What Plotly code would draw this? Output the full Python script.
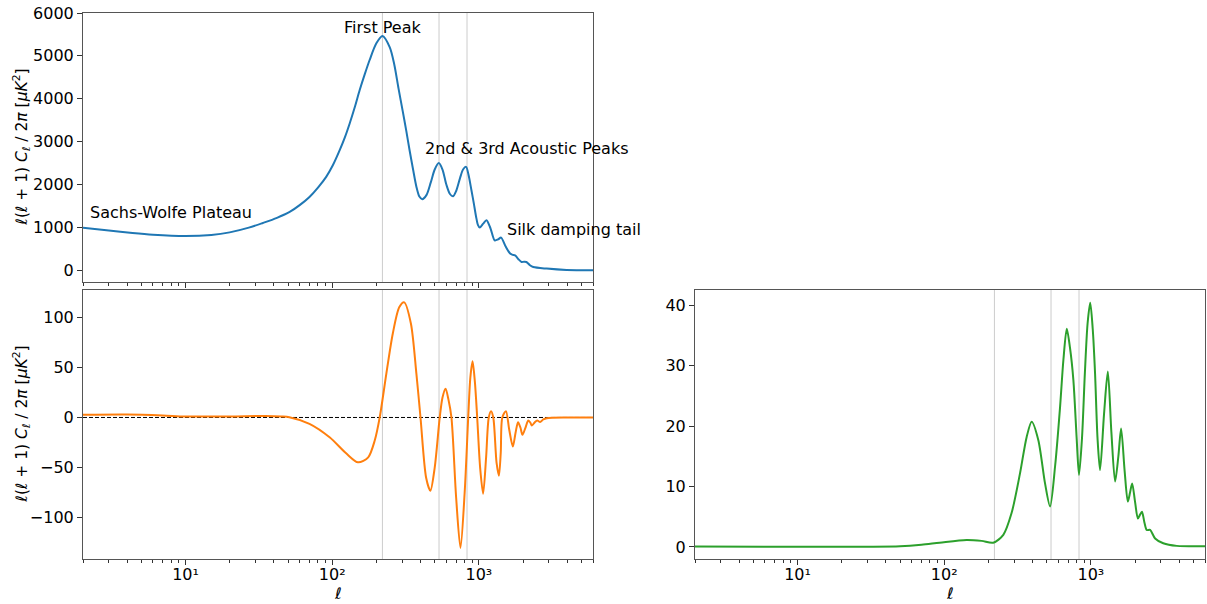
import numpy as np
import plotly.graph_objects as go

# Multipole moments and band powers D_ell = ell(ell+1) C_ell / 2pi  [muK^2]
tt_ell = [2, 3, 4.35, 6, 10, 15, 20, 27, 33.7, 42, 51.3, 60, 70, 80, 91, 101, 112.5,
          122, 131.6, 143, 154, 167, 180, 200, 220, 247, 265, 283, 303, 320, 337, 356,
          375, 393, 411, 440, 470, 500, 533, 565, 600, 635, 667, 700, 744, 780, 818,
          850, 890, 925, 958, 985, 1014, 1070, 1127, 1200, 1282, 1350, 1418, 1520,
          1634, 1700, 1765, 1860, 1955, 2030, 2110, 2230, 2350, 2900, 3960, 6000]
tt_val = [990, 930, 870, 830, 800, 825, 885, 995, 1105, 1225, 1362, 1520, 1712, 1930,
          2180, 2450, 2802, 3100, 3425, 3820, 4203, 4580, 4904, 5293, 5464, 5200, 4800,
          4250, 3700, 3250, 2800, 2350, 1950, 1720, 1660, 1760, 2050, 2350, 2500, 2350,
          2000, 1780, 1728, 1850, 2150, 2350, 2412, 2230, 1868, 1550, 1245, 1060, 997,
          1090, 1168, 980, 700, 720, 763, 560, 390, 360, 350, 260, 195, 200, 195, 120,
          78, 40, 7, 0]

te_ell = [2, 4, 7, 10, 20, 35, 45, 51, 70, 96, 125, 150, 176, 195, 211, 234, 259, 287,
          310, 344, 375, 400, 437, 467, 500, 541, 565, 593, 620, 650, 700, 749, 800, 846,
          875, 906, 940, 974, 1020, 1069, 1120, 1168, 1211, 1254, 1320, 1370, 1410, 1445,
          1530, 1610, 1705, 1780, 1850, 1920, 1983, 2080, 2170, 2240, 2300, 2400, 2500,
          2615, 2750, 2900, 4000, 6000]
te_val = [2.7, 3.0, 2.0, 1.0, 1.0, 1.5, 1.0, 0.3, -6.3, -19.7, -36, -44.7, -39.7, -23,
          0.3, 43.7, 83.7, 110, 114.7, 93.7, 43.7, 0, -60, -73, -50, 0, 20, 28.7, 18, 0,
          -80, -130, -75, 0, 40, 56, 35, 0, -50, -76, -40, 0, 6.3, 0, -45, -58, -35, 0,
          6.3, -12, -29, -15, -4.7, -10, -17.3, -10, -3, -5, -8, -5, -3, -4.5, -2, -0.7,
          0, 0]

ee_ell = [2, 10, 30, 50, 70, 93, 142, 180, 216, 253, 288, 329, 365, 395, 438, 487, 527,
          570, 616, 650, 685, 720, 760, 800, 830, 870, 910, 950, 990, 1030, 1068, 1110,
          1155, 1230, 1305, 1380, 1463, 1540, 1608, 1700, 1786, 1850, 1912, 2000, 2092,
          2160, 2230, 2320, 2405, 2535, 2742, 3115, 3850, 6000]
ee_val = [0.05, 0.02, 0.03, 0.1, 0.35, 0.7, 1.16, 1.0, 0.7, 2.0, 5.6, 12.2, 18.2, 20.7,
          17.7, 10.5, 6.7, 13.3, 23, 31, 36.1, 33, 27.6, 18, 11.9, 18, 28.7, 37, 40.4, 36,
          28.7, 18, 12.7, 22, 29.0, 19, 10.8, 15, 19.6, 12.5, 7.5, 9, 10.5, 7.5, 4.7, 5.3,
          5.8, 4, 2.8, 2.8, 1.4, 0.6, 0.17, 0.1]

# Reference multipoles of the first three acoustic peaks
peak_ell = [220, 535, 830]

ell_min, ell_max = 2, 6000
tt_range = [-272, 6000]
te_range = [-141, 127]
ee_range = [-2.0, 42.5]

x_tickvals = [10, 100, 1000]
x_ticktext = ["10¹", "10²", "10³"]

FONT = "DejaVu Sans"
FS = 16
BLUE, ORANGE, GREEN = "#1f77b4", "#ff7f0e", "#2ca02c"
W, H = 1207, 604

fig = go.Figure()

panels = [("x", "y", tt_ell, tt_val, BLUE, tt_range),
          ("x2", "y2", te_ell, te_val, ORANGE, te_range),
          ("x3", "y3", ee_ell, ee_val, GREEN, ee_range)]

for xa, ya, ell, val, col, yr in panels:
    for p in peak_ell:
        fig.add_trace(go.Scatter(x=[p, p], y=yr, xaxis=xa, yaxis=ya, mode="lines",
                                 line=dict(color="#cccccc", width=1),
                                 hoverinfo="skip", showlegend=False))
    if xa == "x2":
        fig.add_trace(go.Scatter(x=[ell_min, ell_max], y=[0, 0], xaxis=xa, yaxis=ya,
                                 mode="lines", line=dict(color="black", width=1, dash="4px,2px"),
                                 hoverinfo="skip", showlegend=False))
    fig.add_trace(go.Scatter(x=ell, y=val, xaxis=xa, yaxis=ya, mode="lines",
                             line=dict(color=col, width=2, shape="spline", smoothing=0.8),
                             showlegend=False))

minor_vals = [m * 10 ** d for d in range(0, 4) for m in range(2, 10)]
minor_vals = [v for v in minor_vals if ell_min <= v <= ell_max]


def xaxis(domain, anchor, labels):
    return dict(type="log", domain=domain, anchor=anchor, automargin=False,
                range=[np.log10(ell_min), np.log10(ell_max)],
                tickvals=x_tickvals, ticktext=x_ticktext,
                showticklabels=labels, ticks="outside", ticklen=5, tickwidth=1,
                tickcolor="#333", showgrid=False, zeroline=False,
                showline=True, linecolor="#555", linewidth=1, mirror=True,
                ticklabelstandoff=-4,
                minor=dict(tickvals=minor_vals, ticks="outside", ticklen=3,
                           tickwidth=1, tickcolor="#333", showgrid=False),
                tickfont=dict(family=FONT, size=FS, color="black"))


def yaxis(domain, anchor, rng, tickvals):
    return dict(domain=domain, anchor=anchor, range=rng, tickvals=tickvals,
                automargin=False,
                ticks="outside", ticklen=5, tickwidth=1, tickcolor="#333",
                showgrid=False, zeroline=False, showline=True, linecolor="#555",
                linewidth=1, mirror=True,
                tickfont=dict(family=FONT, size=FS, color="black"))


left_dom = [83 / W, 593 / W]
right_dom = [695 / W, 1205 / W]
top_dom = [1 - 282 / H, 1 - 13 / H]
bot_dom = [1 - 559 / H, 1 - 290 / H]

fig.update_layout(
    width=W, height=H,
    margin=dict(l=0, r=0, t=0, b=0, autoexpand=False),
    paper_bgcolor="white", plot_bgcolor="white",
    font=dict(family=FONT, size=FS, color="black"),
    xaxis=xaxis(left_dom, "y", False),
    yaxis=yaxis(top_dom, "x", tt_range, [0, 1000, 2000, 3000, 4000, 5000, 6000]),
    xaxis2=xaxis(left_dom, "y2", True),
    yaxis2=yaxis(bot_dom, "x2", te_range, [-100, -50, 0, 50, 100]),
    xaxis3=xaxis(right_dom, "y3", True),
    yaxis3=yaxis(bot_dom, "x3", ee_range, [0, 10, 20, 30, 40]),
)

ylabel = ("<i>ℓ</i>(<i>ℓ</i> + 1) <i>C<sub>ℓ</sub></i> / 2<i>π</i> "
          "[<i>μK</i><sup>2</sup>]")

annotations = [
    dict(text=ylabel, xref="paper", yref="paper", x=22 / W,
         y=(top_dom[0] + top_dom[1]) / 2, textangle=-90, showarrow=False,
         xanchor="center", yanchor="middle", font=dict(size=15.5)),
    dict(text=ylabel, xref="paper", yref="paper", x=22 / W,
         y=(bot_dom[0] + bot_dom[1]) / 2, textangle=-90, showarrow=False,
         xanchor="center", yanchor="middle", font=dict(size=15.5)),
    dict(text="<i>ℓ</i>", xref="paper", yref="paper",
         x=(left_dom[0] + left_dom[1]) / 2, y=1 - 593 / H, showarrow=False,
         xanchor="center", yanchor="middle", font=dict(size=FS)),
    dict(text="<i>ℓ</i>", xref="paper", yref="paper",
         x=(right_dom[0] + right_dom[1]) / 2, y=1 - 593 / H, showarrow=False,
         xanchor="center", yanchor="middle", font=dict(size=FS)),
]

# Feature labels on the temperature spectrum
features = [("Sachs-Wolfe Plateau", 2.2, 1200, "left"),
            ("First Peak", 220, 5500, "center"),
            ("2nd & 3rd Acoustic Peaks", 424, 2700, "left"),
            ("Silk damping tail", 1520, 800, "left")]
for text, lx, ly, anchor in features:
    annotations.append(dict(text=text, xref="x", yref="y", x=np.log10(lx), y=ly,
                            showarrow=False, xanchor=anchor, yanchor="bottom",
                            yshift=-4, font=dict(size=FS), borderpad=0))

fig.update_layout(annotations=annotations)

fig.write_html("out.html")
